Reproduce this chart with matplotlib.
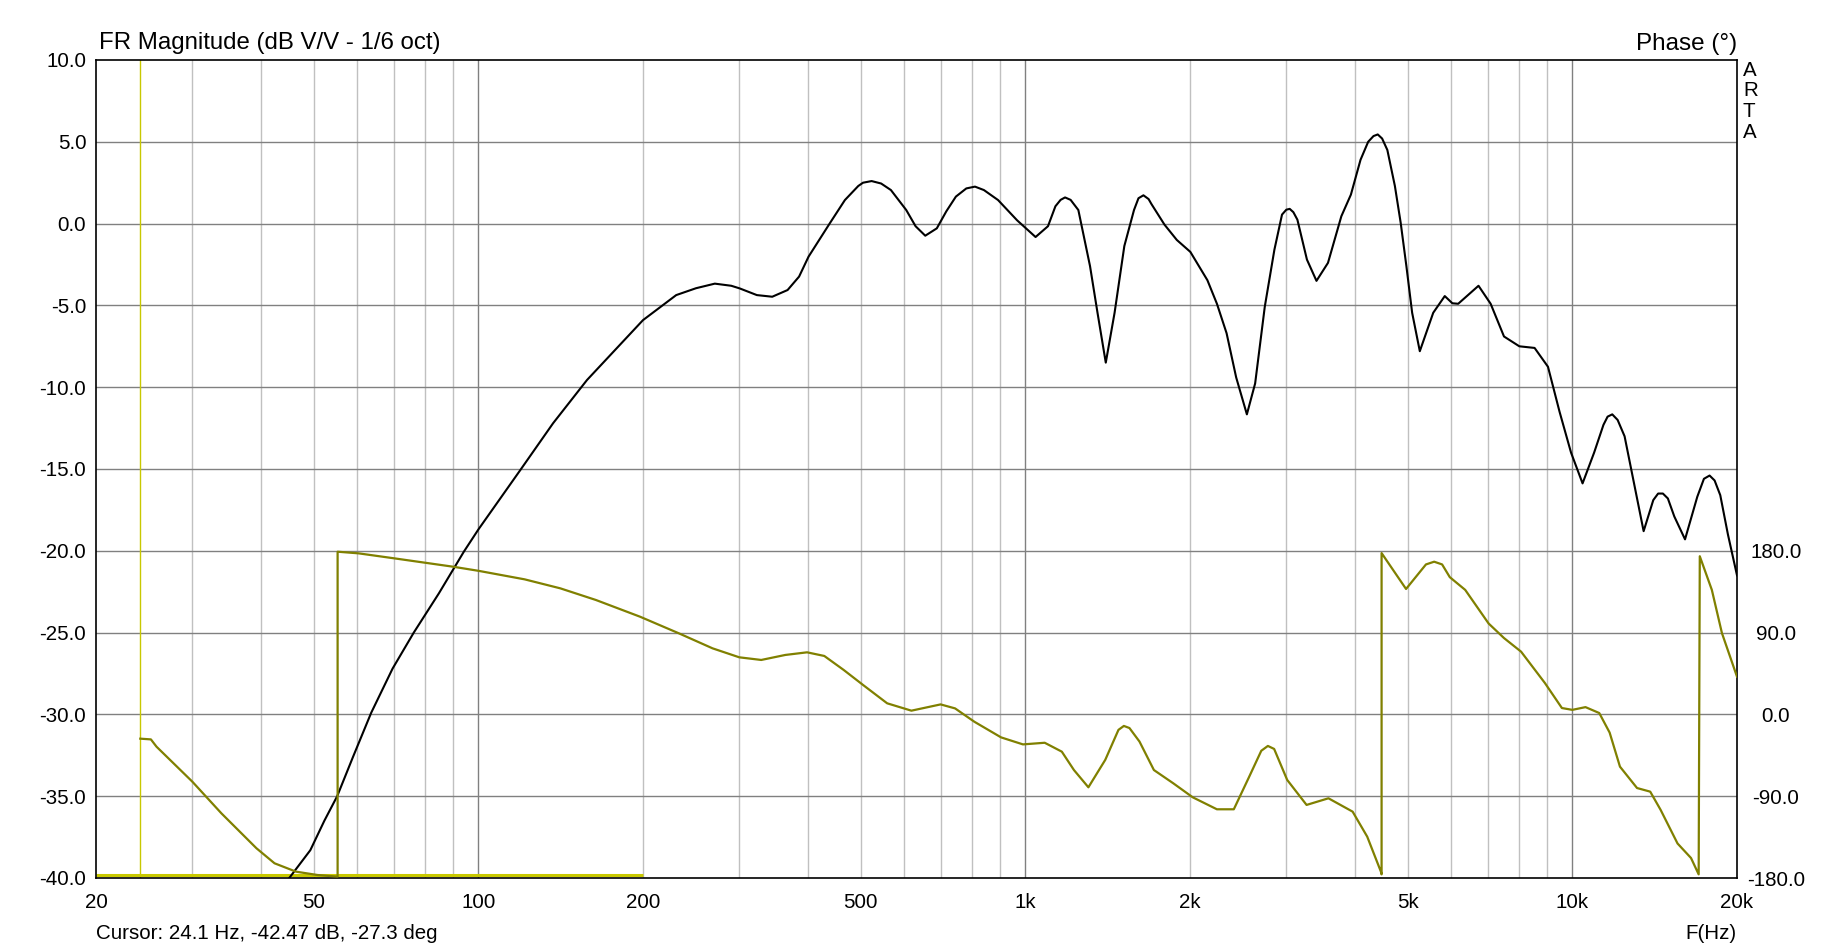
import numpy as np
import matplotlib
matplotlib.use("Agg")
import matplotlib.pyplot as plt
from matplotlib.ticker import FixedLocator, NullLocator, NullFormatter

plt.rcParams['font.family'] = ['Liberation Sans', 'DejaVu Sans']

# magnitude response (Hz, dB)
mag_freq = [44, 45.0, 49.3, 52.3, 55.2, 59.0, 63.7, 69.7, 76.2, 84.7, 94.1, 100,
            119.7, 137, 158, 167, 200, 230, 250, 270.6, 290, 300.4, 323, 344.6,
            367.6, 385.8, 401.5, 438.7, 467.9, 495, 505, 523.6, 545, 567.9,
            605.7, 630, 656.2, 688.9, 717, 746.5, 780, 809, 840, 891.5, 966,
            1044, 1100, 1135, 1160, 1182, 1210, 1250, 1313, 1355, 1403, 1456,
            1517, 1580, 1610, 1644, 1680, 1700, 1796, 1892, 2003, 2152, 2240,
            2333, 2429, 2541, 2631, 2740, 2853, 2946, 3000, 3043, 3090, 3143,
            3272, 3406, 3575, 3782, 3937, 4100, 4234, 4330, 4408, 4490, 4590,
            4738, 4855, 4973, 5095, 5262, 5568, 5845, 6035, 6185, 6737, 7090,
            7500, 8000, 8531, 9025, 9476, 9946, 10440, 10960, 11400, 11600,
            11830, 12100, 12460, 12970, 13500, 14060, 14350, 14640, 14950,
            15360, 16070, 16920, 17400, 17820, 18200, 18640, 19250, 20000]
mag_db = [-40.6, -40.05, -38.3, -36.5, -35.0, -32.6, -29.9, -27.2, -25.0, -22.6,
          -20.05, -18.7, -15.0, -12.2, -9.56, -8.7, -5.9, -4.37, -3.95, -3.67,
          -3.8, -3.96, -4.37, -4.47, -4.06, -3.24, -2.02, 0.0, 1.44, 2.3, 2.5,
          2.6, 2.45, 2.05, 0.83, -0.16, -0.74, -0.29, 0.75, 1.65, 2.15, 2.26,
          2.05, 1.44, 0.2, -0.82, -0.16, 1.06, 1.45, 1.6, 1.45, 0.83, -2.6,
          -5.45, -8.5, -5.45, -1.37, 0.83, 1.55, 1.73, 1.5, 1.2, -0.06, -1.0,
          -1.73, -3.46, -4.9, -6.7, -9.4, -11.66, -9.77, -5.08, -1.6, 0.55,
          0.85, 0.9, 0.7, 0.24, -2.2, -3.5, -2.4, 0.45, 1.77, 3.9, 5.0, 5.35,
          5.45, 5.2, 4.5, 2.3, 0.05, -2.6, -5.45, -7.8, -5.45, -4.43, -4.87,
          -4.9, -3.8, -4.9, -6.9, -7.5, -7.6, -8.75, -11.5, -14.0, -15.88,
          -14.0, -12.3, -11.8, -11.66, -12.0, -13.0, -15.9, -18.8, -16.9,
          -16.5, -16.5, -16.8, -17.9, -19.3, -16.7, -15.6, -15.4, -15.7, -16.6,
          -19.0, -21.5]

# phase response (Hz, degrees), wraps at +-180
ph_freq = [24.1, 25.2, 25.8, 30.0, 33.9, 39.3, 42.4, 46.4, 50.8, 55.3, 55.3,
           60.4, 70.2, 89.9, 100, 121.5, 141.2, 164, 197.5, 232.6, 268, 300,
           329, 364, 399, 429, 465.5, 505, 559, 619, 700, 744, 807, 903, 990,
           1085, 1166, 1227, 1304, 1400, 1480, 1514, 1550, 1617, 1718, 1864,
           2023, 2240, 2405, 2558, 2700, 2776, 2850, 3011, 3267, 3582, 3966,
           4217, 4467, 4480, 4480, 4966, 5400, 5590, 5780, 5970, 6370, 7030,
           7500, 8060, 8910, 9570, 10000, 10570, 11200, 11700, 12220, 13130,
           13880, 14500, 15570, 16480, 17020, 17100, 17990, 18770, 20000]
ph_deg = [-26.7, -27.5, -35.5, -74, -108.8, -147.3, -163.8, -173, -176.7,
          -178.5, 179, 177.2, 171.7, 162.5, 158, 148.6, 138.7, 125.9, 107.5,
          89.2, 72.7, 62.8, 59.9, 65.4, 68.3, 64.3, 48.9, 32.4, 12.2, 4.1, 11.0,
          6.6, -8.1, -25.3, -33, -31.2, -41, -61.2, -80.2, -50, -17, -12.7,
          -15, -29.9, -61.2, -75.8, -91.2, -104.4, -104.4, -70.3, -40, -34.7,
          -38, -72.1, -99.6, -92.3, -107, -134.5, -173, -176, 177.5, 138, 165,
          168, 165, 151, 137, 100, 84, 69, 34.5, 7, 5, 8, 1.5, -20, -57.5, -81,
          -85, -105, -142, -158, -176, 174, 137, 89.5, 41.5]

x_ticks = [20, 50, 100, 200, 500, 1000, 2000, 5000, 10000, 20000]
x_labels = ['20', '50', '100', '200', '500', '1k', '2k', '5k', '10k', '20k']
db_ticks = [10, 5, 0, -5, -10, -15, -20, -25, -30, -35, -40]
ph_ticks = [180, 90, 0, -90, -180]

cursor_freq = 24.1

W, H = 1833, 950
fig = plt.figure(figsize=(W / 100, H / 100), dpi=100)
L, R, T, B = 96, 1737, 60, 878
ax = fig.add_axes([L / W, 1 - B / H, (R - L) / W, (B - T) / H])
ax.set_xscale('log')
ax.set_xlim(20, 20000)
ax.set_ylim(-40, 10)

# grid
minor = [m * d for d in (10, 100, 1000, 10000) for m in range(2, 10)
         if 20 < m * d < 20000]
for f in minor:
    ax.axvline(f, color='#c0c0c0', lw=1.0, zorder=0)
for f in (100, 1000, 10000):
    ax.axvline(f, color='#808080', lw=1.0, zorder=0)
for d in db_ticks[1:-1]:
    ax.axhline(d, color='#808080', lw=1.0, zorder=0)

fs = 14.8
ax.xaxis.set_major_locator(FixedLocator(x_ticks))
ax.xaxis.set_minor_locator(NullLocator())
ax.xaxis.set_minor_formatter(NullFormatter())
ax.set_xticklabels(x_labels)
ax.set_yticks(db_ticks)
ax.set_yticklabels(['%.1f' % v for v in db_ticks])
ax.tick_params(axis='x', length=0, pad=11, labelsize=fs)
ax.tick_params(axis='y', length=0, pad=7, labelsize=fs)
for s in ax.spines.values():
    s.set_color('black')
    s.set_linewidth(1.2)

# cursor
ax.axvline(cursor_freq, color='#c8c800', lw=1.0, zorder=1)
ax.plot([20, 200], [-39.8, -39.8], color='#c8c800', lw=2.2, zorder=1,
        solid_capstyle='butt')

ax.plot(mag_freq, mag_db, color='black', lw=1.5, zorder=3)

ax2 = ax.twinx()
ax2.set_ylim(-180, 720)
ax2.set_yticks(ph_ticks)
ax2.set_yticklabels(['%.1f' % v for v in ph_ticks])
ax2.tick_params(axis='y', length=0, pad=28, labelsize=fs)
for lab in ax2.get_yticklabels():
    lab.set_horizontalalignment('center')
ax2.plot(ph_freq, ph_deg, color='#808000', lw=1.6, zorder=2)
for s in ax2.spines.values():
    s.set_visible(False)

# texts
fig.text(99 / W, 1 - 49 / H, 'FR Magnitude (dB V/V - 1/6 oct)', fontsize=17.3,
         ha='left', va='baseline')
fig.text(R / W, 1 - 50 / H, 'Phase (\u00b0)', fontsize=17.5,
         ha='right', va='baseline')
fig.text(1743 / W, 1 - 61 / H, 'A\nR\nT\nA', fontsize=fs, ha='left',
         va='top', linespacing=1.1)
fig.text(L / W, 1 - 939 / H, 'Cursor: 24.1 Hz, -42.47 dB, -27.3 deg',
         fontsize=fs, ha='left', va='baseline')
fig.text(R / W, 1 - 939 / H, 'F(Hz)', fontsize=fs, ha='right',
         va='baseline')

fig.savefig('out.png', dpi=100)
